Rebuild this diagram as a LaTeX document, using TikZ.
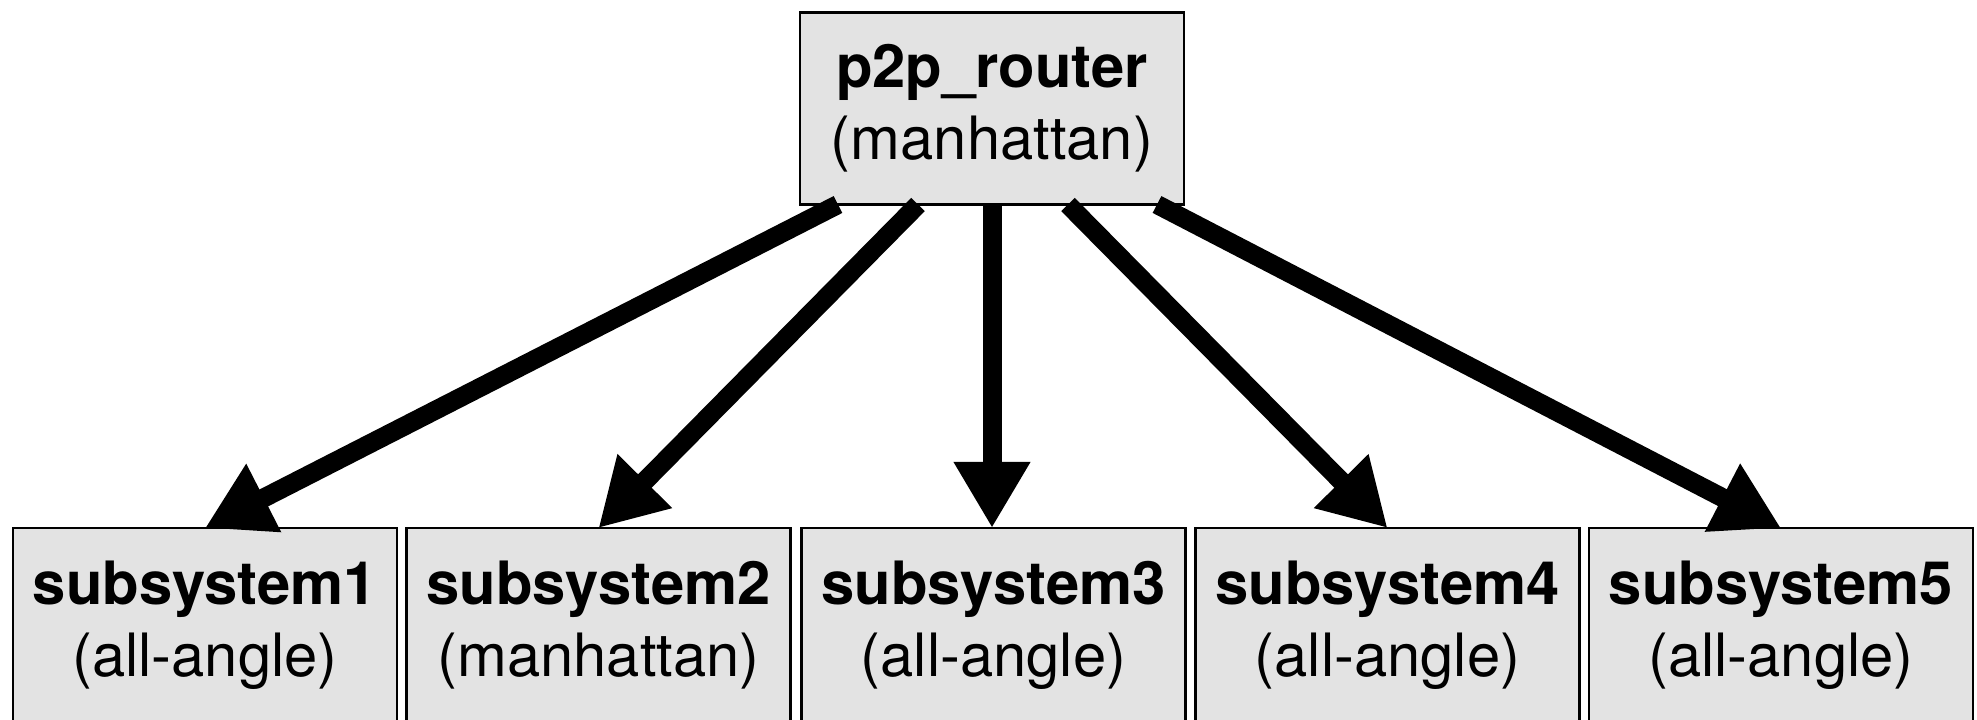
\documentclass[tikz,border=0pt]{standalone}
\usepackage{fontspec}
\setsansfont{TeX Gyre Heros}
\usetikzlibrary{arrows.meta}
\tikzset{
  box/.style={draw=black, line width=0.7pt, fill=black!11, minimum width=3.84cm,
    minimum height=1.92cm, inner sep=0pt, outer sep=0pt, align=center,
    font=\sffamily\fontsize{17}{20.5}\selectfont},
  conn/.style={line width=5.4pt, -{Triangle[width=0.72cm,length=0.66cm]}, shorten >=0pt},
}
\begin{document}
\begin{tikzpicture}
\useasboundingbox (0,0) rectangle (19.77,-7.20);
\node[box] (top) at (9.92,-1.085) {\textbf{p2p\_router}\\(manhattan)};
\node[box, minimum height=1.95cm] (s1) at (2.05,-6.255) {\textbf{subsystem1}\\(all-angle)};
\node[box, minimum height=1.95cm] (s2) at (5.985,-6.255) {\textbf{subsystem2}\\(manhattan)};
\node[box, minimum height=1.95cm] (s3) at (9.935,-6.255) {\textbf{subsystem3}\\(all-angle)};
\node[box, minimum height=1.95cm] (s4) at (13.875,-6.255) {\textbf{subsystem4}\\(all-angle)};
\node[box, minimum height=1.95cm] (s5) at (17.81,-6.255) {\textbf{subsystem5}\\(all-angle)};
\draw[conn] ([xshift=-1.54cm]top.south) -- (s1.north);
\draw[conn] ([xshift=-0.74cm]top.south) -- (s2.north);
\draw[conn] (top.south) -- (top.south |- s3.north);
\draw[conn] ([xshift=0.76cm]top.south) -- (s4.north);
\draw[conn] ([xshift=1.65cm]top.south) -- (s5.north);
\end{tikzpicture}
\end{document}
